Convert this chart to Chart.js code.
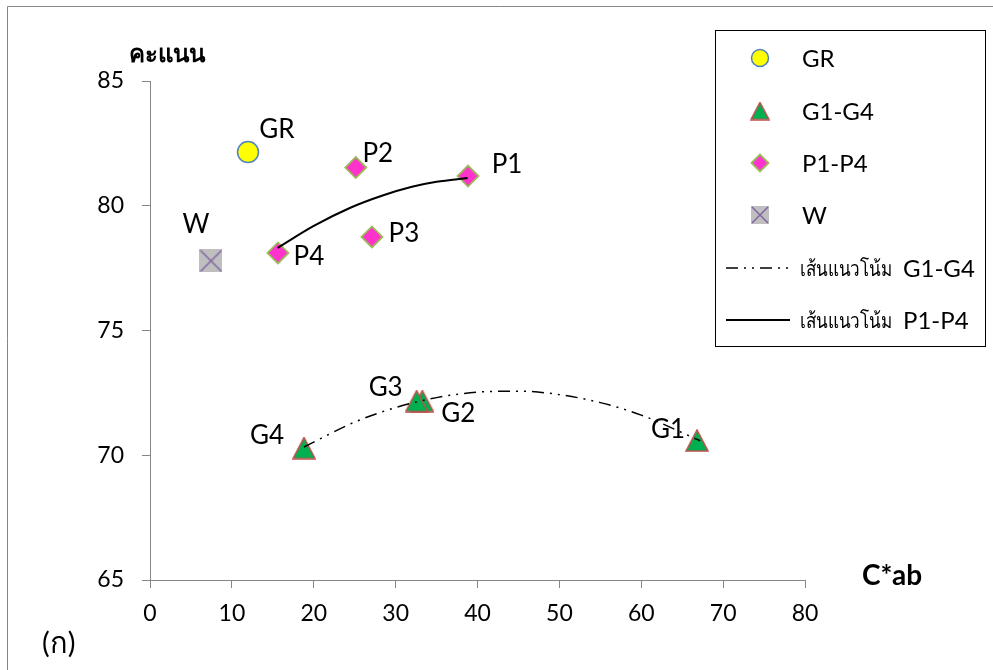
<!DOCTYPE html>
<html>
<head>
<meta charset="utf-8">
<script src="https://cdn.jsdelivr.net/npm/chart.js@4.4.1/dist/chart.umd.min.js"></script>
<style>
  html, body { margin: 0; padding: 0; background: #fff; }
  canvas { display: block; }
</style>
</head>
<body>
<canvas id="scoreChart" width="993" height="670"></canvas>
<script>
// values
const grNames = ['GR'];
const grX = [11.97];
const grY = [82.15];

const gNames = ['G1', 'G2', 'G3', 'G4'];
const gX = [66.81, 33.26, 32.57, 18.81];
const gY = [70.59, 72.17, 72.17, 70.29];

const pNames = ['P1', 'P2', 'P3', 'P4'];
const pX = [38.84, 25.13, 27.11, 15.63];
const pY = [81.19, 81.53, 78.75, 78.11];

const wNames = ['W'];
const wX = [7.45];
const wY = [77.79];

// trend curves (polynomial trendlines in the original)
const gTrendX = [18.8, 25, 30, 35, 40, 45, 50, 55, 60, 67.2];
const gTrendY = [70.33, 71.33, 71.91, 72.31, 72.53, 72.57, 72.43, 72.11, 71.61, 70.58];
const pTrendX = [15.6, 20, 24.4, 28.5, 32, 35, 38.8];
const pTrendY = [78.31, 79.19, 79.91, 80.42, 80.76, 80.96, 81.11];

const xTicks = [0, 10, 20, 30, 40, 50, 60, 70, 80];
const yTicks = [65, 70, 75, 80, 85];

const legendLabels = ['GR', 'G1-G4', 'P1-P4', 'W', 'G1-G4', 'P1-P4'];
const trendPrefix = 'เส้นแนวโน้ม';

const FONT = 'Lato, "Noto Sans", "DejaVu Sans", sans-serif';
const AXIS_GRAY = '#868686';

// label offsets from each marker (px)
const labelOffsets = {
  GR: [29, -23], W: [-15, -37],
  P1: [39, -12], P2: [22, -15], P3: [32, -4], P4: [31, 3],
  G1: [-29, -12], G2: [36, 12], G3: [-31, -14], G4: [-37, -13]
};

function toPoints(xs, ys) {
  return xs.map((x, i) => ({ x: x, y: ys[i] }));
}

function makeTriangle(w, h) {
  const c = document.createElement('canvas');
  c.width = w + 2; c.height = h + 2;
  const ctx = c.getContext('2d');
  ctx.beginPath();
  ctx.moveTo(c.width / 2, 1);
  ctx.lineTo(c.width - 1, c.height - 1);
  ctx.lineTo(1, c.height - 1);
  ctx.closePath();
  ctx.fillStyle = '#00B050';
  ctx.fill();
  ctx.lineWidth = 1.6;
  ctx.strokeStyle = '#C0504D';
  ctx.stroke();
  return c;
}

function makeCrossBox(s) {
  const c = document.createElement('canvas');
  c.width = s; c.height = s;
  const ctx = c.getContext('2d');
  ctx.fillStyle = '#BFBFBF';
  ctx.fillRect(0, 0, s, s);
  ctx.strokeStyle = '#8064A2';
  ctx.lineWidth = 1.5;
  ctx.beginPath();
  ctx.moveTo(1, 1); ctx.lineTo(s - 1, s - 1);
  ctx.moveTo(s - 1, 1); ctx.lineTo(1, s - 1);
  ctx.stroke();
  return c;
}

const triMarker = makeTriangle(22, 21);
const triLegend = makeTriangle(18, 17);
const wMarker = makeCrossBox(23);
const wLegend = makeCrossBox(18);

const pointLabels = {
  id: 'pointLabels',
  afterDatasetsDraw(chart) {
    const ctx = chart.ctx;
    ctx.save();
    ctx.font = '26px ' + FONT;
    ctx.fillStyle = '#000';
    ctx.textAlign = 'center';
    ctx.textBaseline = 'alphabetic';
    chart.data.datasets.forEach((ds, i) => {
      if (!ds.names) return;
      chart.getDatasetMeta(i).data.forEach((el, j) => {
        const name = ds.names[j];
        const off = labelOffsets[name] || [0, 0];
        ctx.fillText(name, el.x + off[0], el.y + off[1] + 9);
      });
    });
    ctx.restore();
  }
};

const extras = {
  id: 'extras',
  afterDraw(chart) {
    const ctx = chart.ctx;
    ctx.save();
    // outer frame
    ctx.strokeStyle = AXIS_GRAY;
    ctx.lineWidth = 1;
    ctx.beginPath();
    ctx.moveTo(7.5, 670);
    ctx.lineTo(7.5, 6.5);
    ctx.lineTo(993, 6.5);
    ctx.stroke();

    // axis titles and panel tag
    ctx.fillStyle = '#000';
    ctx.textBaseline = 'alphabetic';
    ctx.textAlign = 'center';
    ctx.font = 'bold 24px ' + FONT;
    ctx.fillText('คะแนน', 167, 62);
    ctx.font = 'bold 28px ' + FONT;
    ctx.fillText('C*ab', 892, 585);
    ctx.font = '29px ' + FONT;
    ctx.textAlign = 'left';
    ctx.fillText('(ก)', 42, 653);

    // legend box
    ctx.strokeStyle = '#000';
    ctx.lineWidth = 1;
    ctx.strokeRect(715.5, 30.5, 270, 316);
    const rowsY = [58, 111, 163, 215, 268, 320];
    const helpers = Chart.helpers;
    chart.data.datasets.forEach((ds, i) => {
      const y = rowsY[i];
      let tx = 802;
      if (ds.type === 'line') {
        ctx.strokeStyle = ds.borderColor;
        ctx.lineWidth = ds.borderWidth;
        ctx.setLineDash(ds.borderDash || []);
        ctx.beginPath();
        ctx.moveTo(726, y);
        ctx.lineTo(790, y);
        ctx.stroke();
        ctx.setLineDash([]);
        ctx.fillStyle = '#000';
        ctx.textAlign = 'left';
        ctx.font = '21px ' + FONT;
        ctx.save();
        const w = ctx.measureText(trendPrefix).width;
        ctx.translate(800, y + 8);
        ctx.scale(92 / w, 1);
        ctx.fillText(trendPrefix, 0, 0);
        ctx.restore();
        tx = 903;
      } else {
        ctx.fillStyle = ds.backgroundColor;
        ctx.strokeStyle = ds.borderColor;
        ctx.lineWidth = ds.borderWidth;
        helpers.drawPoint(ctx, {
          pointStyle: ds.legendStyle || ds.pointStyle,
          rotation: 0,
          radius: 8.5,
          borderWidth: ds.borderWidth
        }, 760, y);
      }
      ctx.fillStyle = '#000';
      ctx.font = '24px ' + FONT;
      ctx.textAlign = 'left';
      ctx.fillText(legendLabels[i], tx, y + 9);
    });
    ctx.restore();
  }
};

new Chart(document.getElementById('scoreChart'), {
  type: 'scatter',
  data: {
    datasets: [{
      label: legendLabels[0],
      names: grNames,
      data: toPoints(grX, grY),
      pointStyle: 'circle',
      pointRadius: 10.5,
      backgroundColor: '#FFFF00',
      borderColor: '#4F81BD',
      borderWidth: 1.5,
      order: 2
    }, {
      label: legendLabels[1],
      names: gNames,
      data: toPoints(gX, gY),
      pointStyle: triMarker,
      legendStyle: triLegend,
      backgroundColor: '#00B050',
      borderColor: '#C0504D',
      borderWidth: 1.5,
      order: 2
    }, {
      label: legendLabels[2],
      names: pNames,
      data: toPoints(pX, pY),
      pointStyle: 'rectRot',
      pointRadius: 10.5,
      backgroundColor: '#FF33CC',
      borderColor: '#9BBB59',
      borderWidth: 1.8,
      order: 2
    }, {
      label: legendLabels[3],
      names: wNames,
      data: toPoints(wX, wY),
      pointStyle: wMarker,
      legendStyle: wLegend,
      backgroundColor: '#BFBFBF',
      borderColor: '#8064A2',
      borderWidth: 1.5,
      order: 2
    }, {
      type: 'line',
      label: trendPrefix + ' ' + legendLabels[4],
      data: toPoints(gTrendX, gTrendY),
      borderColor: '#000',
      borderWidth: 1.5,
      borderDash: [12, 6, 2, 6, 2, 6],
      pointRadius: 0,
      tension: 0.4,
      cubicInterpolationMode: 'monotone',
      fill: false,
      order: 1
    }, {
      type: 'line',
      label: trendPrefix + ' ' + legendLabels[5],
      data: toPoints(pTrendX, pTrendY),
      borderColor: '#000',
      borderWidth: 2,
      pointRadius: 0,
      tension: 0.4,
      cubicInterpolationMode: 'monotone',
      fill: false,
      order: 1
    }]
  },
  options: {
    responsive: false,
    animation: false,
    devicePixelRatio: 1,
    layout: {
      padding: { left: 90, right: 188, top: 81, bottom: 40 }
    },
    plugins: {
      legend: { display: false },
      tooltip: { enabled: false }
    },
    scales: {
      x: {
        type: 'linear',
        min: 0,
        max: 80,
        afterFit: (scale) => { scale.height = 50; },
        afterBuildTicks: (scale) => { scale.ticks = xTicks.map(v => ({ value: v })); },
        ticks: {
          padding: 12,
          color: '#000',
          font: { family: FONT, size: 23 }
        },
        grid: {
          drawOnChartArea: false,
          drawTicks: true,
          tickLength: 8,
          color: AXIS_GRAY
        },
        border: { color: AXIS_GRAY, width: 1 }
      },
      y: {
        type: 'linear',
        min: 65,
        max: 85,
        afterFit: (scale) => { scale.width = 60; },
        afterBuildTicks: (scale) => { scale.ticks = yTicks.map(v => ({ value: v })); },
        ticks: {
          padding: 18,
          color: '#000',
          font: { family: FONT, size: 23 }
        },
        grid: {
          drawOnChartArea: false,
          drawTicks: true,
          tickLength: 8,
          color: AXIS_GRAY
        },
        border: { color: AXIS_GRAY, width: 1 }
      }
    }
  },
  plugins: [pointLabels, extras]
});
</script>
</body>
</html>
